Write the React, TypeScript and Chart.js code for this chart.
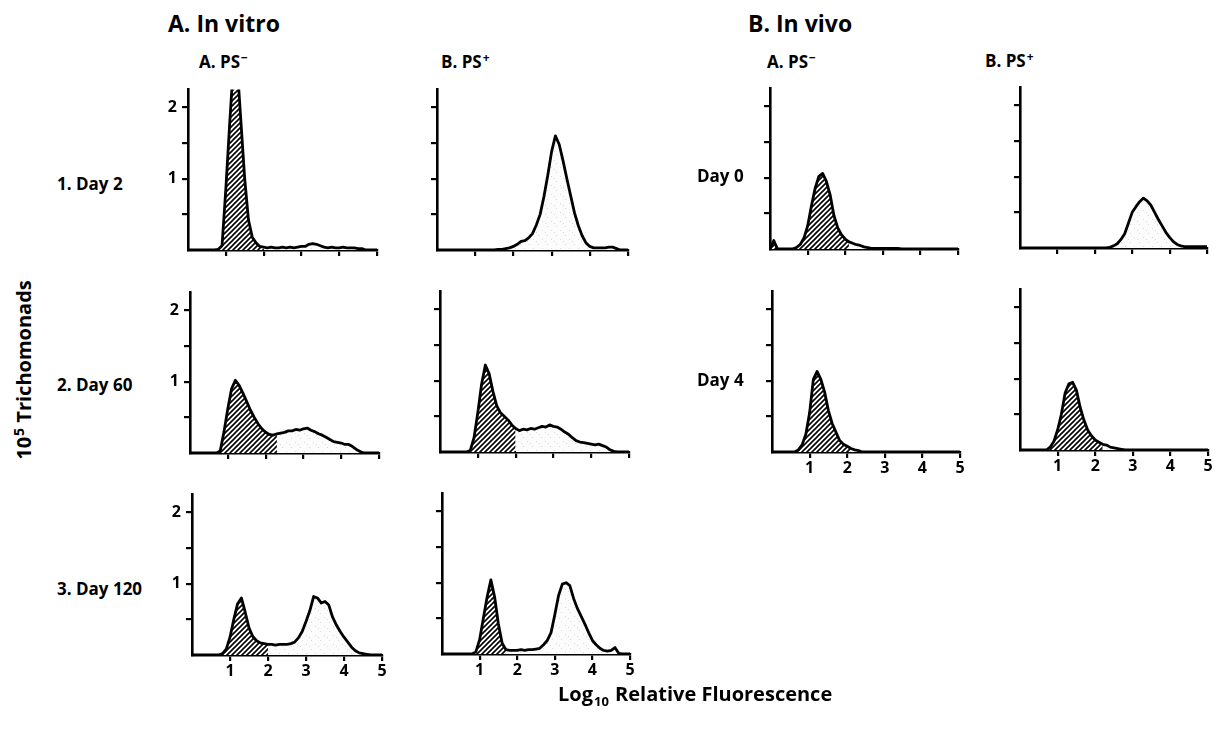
import React, { useEffect, useRef } from 'react';
import { Chart, registerables } from 'chart.js';

Chart.register(...registerables);

// Log10 relative fluorescence (x) shared by all histograms
const fluorescence = [
  0, 0.1, 0.2, 0.3, 0.4, 0.5, 0.6, 0.7, 0.8, 0.9,
  1.0, 1.1, 1.2, 1.3, 1.4, 1.5, 1.6, 1.7, 1.8, 1.9,
  2.0, 2.1, 2.2, 2.3, 2.4, 2.5, 2.6, 2.7, 2.8, 2.9,
  3.0, 3.1, 3.2, 3.3, 3.4, 3.5, 3.6, 3.7, 3.8, 3.9,
  4.0, 4.1, 4.2, 4.3, 4.4, 4.5, 4.6, 4.7, 4.8, 4.9, 5.0,
];

// 10^5 trichomonads per channel
const inVitroNegDay2 = [
  0, 0, 0, 0, 0, 0, 0, 0, 0.01, 0.06,
  0.85, 1.75, 2.6, 2.6, 1.8, 1.0, 0.42, 0.18, 0.1, 0.05,
  0.04, 0.03, 0.04, 0.03, 0.03, 0.04, 0.03, 0.04, 0.03, 0.04,
  0.05, 0.05, 0.08, 0.09, 0.08, 0.06, 0.04, 0.03, 0.04, 0.03,
  0.03, 0.04, 0.03, 0.03, 0.03, 0.02, 0.02, 0, 0, 0, 0,
];
const inVitroPosDay2 = [
  0, 0, 0, 0, 0, 0, 0, 0, 0, 0,
  0, 0, 0, 0, 0, 0, 0.01, 0.01, 0.02, 0.03,
  0.05, 0.08, 0.12, 0.13, 0.17, 0.23, 0.35, 0.5, 0.75, 1.05,
  1.38, 1.6, 1.48, 1.25, 1.0, 0.76, 0.52, 0.34, 0.2, 0.1,
  0.05, 0.03, 0.03, 0.03, 0.03, 0.04, 0.04, 0.02, 0, 0, 0,
];
const inVitroNegDay60 = [
  0, 0, 0, 0, 0, 0, 0, 0, 0.03, 0.3,
  0.62, 0.9, 1.02, 0.95, 0.84, 0.72, 0.6, 0.5, 0.41, 0.34,
  0.29, 0.26, 0.25, 0.27, 0.28, 0.29, 0.31, 0.31, 0.33, 0.32,
  0.34, 0.35, 0.32, 0.3, 0.27, 0.25, 0.22, 0.19, 0.16, 0.15,
  0.14, 0.12, 0.12, 0.09, 0.05, 0.02, 0, 0, 0, 0, 0,
];
const inVitroPosDay60 = [
  0, 0, 0, 0, 0, 0, 0, 0, 0.02, 0.2,
  0.55, 0.95, 1.22, 1.1, 0.85, 0.65, 0.55, 0.5, 0.45, 0.38,
  0.33, 0.3, 0.32, 0.31, 0.33, 0.32, 0.34, 0.36, 0.35, 0.38,
  0.36, 0.35, 0.32, 0.28, 0.25, 0.2, 0.16, 0.14, 0.13, 0.12,
  0.11, 0.1, 0.11, 0.09, 0.07, 0.03, 0.01, 0, 0, 0, 0,
];
const inVitroNegDay120 = [
  0, 0, 0, 0, 0, 0, 0, 0, 0.02, 0.08,
  0.25, 0.5, 0.72, 0.8, 0.6, 0.38, 0.26, 0.2, 0.17, 0.16,
  0.15, 0.15, 0.14, 0.15, 0.15, 0.15, 0.16, 0.18, 0.24, 0.33,
  0.47, 0.62, 0.82, 0.8, 0.73, 0.75, 0.7, 0.53, 0.42, 0.33,
  0.25, 0.18, 0.11, 0.06, 0.03, 0.02, 0.01, 0, 0, 0, 0,
];
const inVitroPosDay120 = [
  0, 0, 0, 0, 0, 0, 0, 0, 0, 0.03,
  0.2, 0.5, 0.8, 1.04, 0.8, 0.42, 0.15, 0.06, 0.05, 0.05,
  0.05, 0.06, 0.05, 0.06, 0.06, 0.07, 0.08, 0.13, 0.19, 0.3,
  0.55, 0.82, 0.98, 1.0, 0.96, 0.78, 0.64, 0.53, 0.42, 0.3,
  0.19, 0.13, 0.08, 0.05, 0.04, 0.05, 0.09, 0.01, 0, 0, 0,
];
const inVivoNegDay0 = [
  0, 0.12, 0, 0, 0, 0, 0, 0.02, 0.06, 0.15,
  0.32, 0.6, 0.85, 1.02, 1.06, 0.95, 0.76, 0.47, 0.3, 0.2,
  0.14, 0.1, 0.08, 0.06, 0.05, 0.03, 0.02, 0.01, 0.01, 0.01,
  0.01, 0.01, 0.01, 0.01, 0.01, 0, 0, 0, 0, 0,
  0, 0, 0, 0, 0, 0, 0, 0, 0, 0, 0,
];
const inVivoPosDay0 = [
  0, 0, 0, 0, 0, 0, 0, 0, 0, 0,
  0, 0, 0, 0, 0, 0, 0, 0, 0, 0,
  0, 0, 0, 0, 0.01, 0.03, 0.06, 0.12, 0.2, 0.35,
  0.5, 0.58, 0.65, 0.7, 0.66, 0.6, 0.5, 0.4, 0.31, 0.22,
  0.15, 0.09, 0.05, 0.03, 0.02, 0.02, 0.02, 0.02, 0.02, 0.02, 0.02,
];
const inVivoNegDay4 = [
  0, 0, 0, 0, 0, 0, 0, 0.03, 0.1, 0.25,
  0.55, 1.02, 1.13, 1.02, 0.84, 0.58, 0.4, 0.28, 0.16, 0.11,
  0.08, 0.05, 0.03, 0.02, 0, 0, 0, 0, 0, 0,
  0, 0, 0, 0, 0, 0, 0, 0, 0, 0,
  0, 0, 0, 0, 0, 0, 0, 0, 0, 0, 0,
];
const inVivoPosDay4 = [
  0, 0, 0, 0, 0, 0, 0, 0, 0.04, 0.12,
  0.28, 0.5, 0.8, 0.93, 0.95, 0.84, 0.6, 0.42, 0.28, 0.2,
  0.14, 0.11, 0.08, 0.07, 0.04, 0.03, 0.02, 0.01, 0, 0,
  0, 0, 0, 0, 0, 0, 0, 0, 0, 0,
  0, 0, 0, 0, 0, 0, 0, 0, 0, 0, 0,
];

// PS- gate (upper fluorescence limit of the hatched region); 0 = no hatched region
const gates = [2.0, 0, 2.3, 2.0, 2.0, 1.7, 2.1, 0, 2.1, 2.2];

const xTickValues = [1, 2, 3, 4, 5];
const xTickLabels = ['1', '2', '3', '4', '5'];
const yTickValues = [0.5, 1, 1.5, 2];
const yTickLabels = ['', '1', '', '2'];

const FONT = '"Open Sans", "DejaVu Sans", sans-serif';

// layout (page pixels)
const L = 40;
const B = 30;
const PT = 6;
const PR = 8;
const H = 169;

const panels = [
  { data: inVitroNegDay2, x0: 188, x5: 377, y0: 250, yLab: true, xLab: false },
  { data: inVitroPosDay2, x0: 437, x5: 628, y0: 250, yLab: false, xLab: false },
  { data: inVitroNegDay60, x0: 190, x5: 379, y0: 453, yLab: true, xLab: false },
  { data: inVitroPosDay60, x0: 440, x5: 629, y0: 452, yLab: false, xLab: false },
  { data: inVitroNegDay120, x0: 192, x5: 382, y0: 655, yLab: true, xLab: true },
  { data: inVitroPosDay120, x0: 442, x5: 630, y0: 654, yLab: false, xLab: true },
  { data: inVivoNegDay0, x0: 770, x5: 958, y0: 249, yLab: false, xLab: false },
  { data: inVivoPosDay0, x0: 1020, x5: 1207, y0: 248, yLab: false, xLab: false },
  { data: inVivoNegDay4, x0: 772, x5: 960, y0: 452, yLab: false, xLab: true },
  { data: inVivoPosDay4, x0: 1020, x5: 1208, y0: 450, yLab: false, xLab: true },
];

function hatchPattern(ctx: CanvasRenderingContext2D) {
  const c = document.createElement('canvas');
  c.width = 5;
  c.height = 5;
  const g = c.getContext('2d')!;
  g.fillStyle = '#fff';
  g.fillRect(0, 0, 5, 5);
  g.strokeStyle = '#000';
  g.lineWidth = 1.6;
  g.beginPath();
  g.moveTo(-1, 6);
  g.lineTo(6, -1);
  g.moveTo(-1, 1);
  g.lineTo(1, -1);
  g.moveTo(4, 6);
  g.lineTo(6, 4);
  g.stroke();
  return ctx.createPattern(c, 'repeat')!;
}

function stipplePattern(ctx: CanvasRenderingContext2D) {
  const c = document.createElement('canvas');
  c.width = 9;
  c.height = 9;
  const g = c.getContext('2d')!;
  g.fillStyle = '#fcfcfc';
  g.fillRect(0, 0, 9, 9);
  g.fillStyle = 'rgba(0,0,0,0.13)';
  g.fillRect(1, 2, 1, 1);
  g.fillRect(6, 7, 1, 1);
  g.fillRect(4, 4, 1, 1);
  return ctx.createPattern(c, 'repeat')!;
}

function Panel({ idx }: { idx: number }) {
  const ref = useRef<HTMLCanvasElement>(null);
  const p = panels[idx];
  const gate = gates[idx];
  const w = L + (p.x5 - p.x0) + PR;
  const h = PT + H + B;

  useEffect(() => {
    const canvas = ref.current!;
    const ctx = canvas.getContext('2d')!;
    const pts = fluorescence.map((x, i) => ({ x, y: p.data[i] }));
    const hatchPts = pts.filter((d) => d.x <= gate + 1e-9);
    const stipPts = pts.filter((d) => d.x >= gate - 1e-9);
    const tickFont = { family: FONT, size: 16, weight: 'bold' };
    const chart = new Chart(canvas, {
      type: 'line',
      data: {
        datasets: [
          {
            data: pts,
            borderColor: '#000',
            borderWidth: 2.8,
            borderJoinStyle: 'round',
            borderCapStyle: 'round',
            pointRadius: 0,
            fill: false,
            tension: 0,
            order: 0,
          },
          {
            data: gate > 0 ? hatchPts : [],
            borderWidth: 0,
            pointRadius: 0,
            backgroundColor: hatchPattern(ctx),
            fill: 'origin',
            tension: 0,
            order: 1,
          },
          {
            data: stipPts,
            borderWidth: 0,
            pointRadius: 0,
            backgroundColor: stipplePattern(ctx),
            fill: 'origin',
            tension: 0,
            order: 2,
          },
        ],
      },
      options: {
        responsive: false,
        maintainAspectRatio: false,
        animation: false,
        events: [],
        layout: { padding: { top: PT, right: PR, left: 0, bottom: 0 } },
        plugins: { legend: { display: false }, tooltip: { enabled: false } },
        scales: {
          x: {
            type: 'linear',
            min: 0,
            max: 5,
            afterFit: (s: any) => {
              s.height = B;
            },
            afterBuildTicks: (s: any) => {
              s.ticks = xTickValues.map((v) => ({ value: v }));
            },
            grid: { drawOnChartArea: false, drawTicks: true, tickLength: 6, color: '#000', lineWidth: 2.2 },
            border: { display: true, color: '#000', width: 2.6 },
            ticks: {
              display: p.xLab,
              autoSkip: false,
              maxRotation: 0,
              padding: 1,
              color: '#000',
              font: tickFont,
              callback: (v: any) => xTickLabels[xTickValues.indexOf(Number(v))] ?? '',
            },
          },
          y: {
            type: 'linear',
            min: 0,
            max: 2.25,
            afterFit: (s: any) => {
              s.width = L;
            },
            afterBuildTicks: (s: any) => {
              s.ticks = yTickValues.map((v) => ({ value: v }));
            },
            grid: { drawOnChartArea: false, drawTicks: true, tickLength: 6, color: '#000', lineWidth: 2.2 },
            border: { display: true, color: '#000', width: 2.6 },
            ticks: {
              display: true,
              autoSkip: false,
              padding: 5,
              color: '#000',
              font: tickFont,
              callback: (v: any) => (p.yLab ? yTickLabels[yTickValues.indexOf(Number(v))] ?? '' : ''),
            },
          },
        },
      },
    } as any);
    return () => chart.destroy();
  }, []);

  return (
    <canvas
      ref={ref}
      width={w}
      height={h}
      style={{ position: 'absolute', left: p.x0 - L, top: p.y0 - H - PT, width: w, height: h }}
    />
  );
}

function Txt({
  x,
  y,
  size,
  weight = 700,
  rotate = false,
  children,
}: {
  x: number;
  y: number;
  size: number;
  weight?: number;
  rotate?: boolean;
  children: React.ReactNode;
}) {
  return (
    <div
      style={{
        position: 'absolute',
        left: x,
        top: y,
        fontFamily: FONT,
        fontSize: size,
        fontWeight: weight,
        lineHeight: 1,
        whiteSpace: 'nowrap',
        color: '#000',
        transform: rotate ? 'translate(-50%, -50%) rotate(-90deg)' : 'translateY(-50%)',
      }}
    >
      {children}
    </div>
  );
}

const supStyle: React.CSSProperties = { fontSize: '0.7em', position: 'relative', top: '-0.5em', marginLeft: 1 };
const subStyle: React.CSSProperties = { fontSize: '0.65em', position: 'relative', top: '0.35em', marginLeft: 1, marginRight: 1 };

export default function App() {
  return (
    <div style={{ position: 'fixed', left: 0, top: 0, width: 1222, height: 730, background: '#fff', overflow: 'hidden' }}>
      {panels.map((_, i) => (
        <Panel key={i} idx={i} />
      ))}
      <Txt x={168} y={23} size={23} weight={700}>A. In vitro</Txt>
      <Txt x={748} y={23} size={23} weight={700}>B. In vivo</Txt>
      <Txt x={199} y={61} size={17}>A. PS<span style={supStyle}>−</span></Txt>
      <Txt x={441} y={61} size={17}>B. PS<span style={supStyle}>+</span></Txt>
      <Txt x={767} y={61} size={17}>A. PS<span style={supStyle}>−</span></Txt>
      <Txt x={985} y={60} size={17}>B. PS<span style={supStyle}>+</span></Txt>
      <Txt x={57} y={183} size={17}>1. Day 2</Txt>
      <Txt x={57} y={384} size={17}>2. Day 60</Txt>
      <Txt x={57} y={588} size={17}>3. Day 120</Txt>
      <Txt x={697} y={175} size={17}>Day 0</Txt>
      <Txt x={697} y={379} size={17}>Day 4</Txt>
      <Txt x={24} y={370} size={20} rotate>
        10<span style={supStyle}>5</span> Trichomonads
      </Txt>
      <Txt x={558} y={694} size={20}>
        Log<span style={subStyle}>10</span> Relative Fluorescence
      </Txt>
    </div>
  );
}
